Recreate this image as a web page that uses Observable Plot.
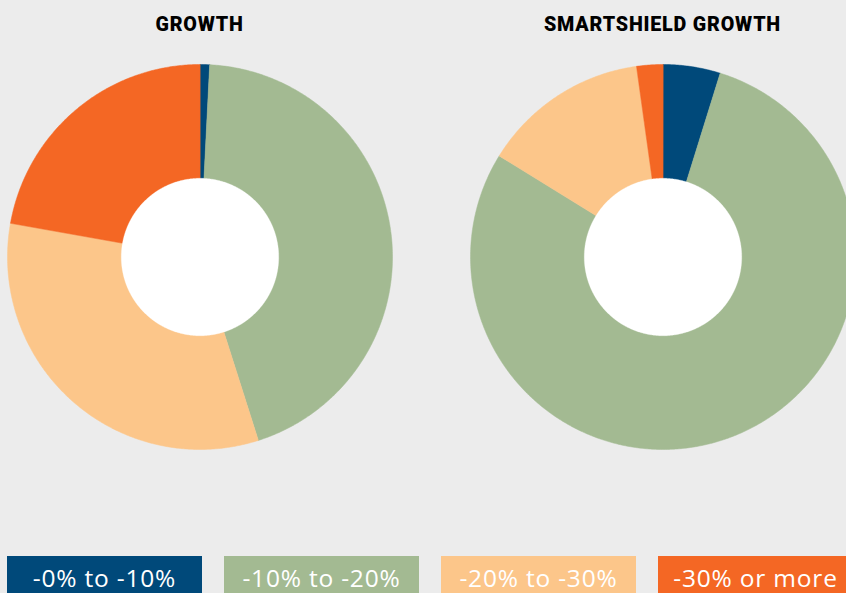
<!DOCTYPE html>
<html>
<head>
<meta charset="utf-8">
<script src="https://cdn.jsdelivr.net/npm/d3@7"></script>
<script src="https://cdn.jsdelivr.net/npm/@observablehq/plot@0.6"></script>
<style>
  html, body { margin: 0; padding: 0; background: #ececec; overflow: hidden; }
  #page { position: relative; width: 846px; height: 593px; overflow: hidden; background: #ececec; }
  .title { position: absolute; top: 13px; font-family: Roboto, "DejaVu Sans", sans-serif; font-weight: 900; font-size: 19.7px; color: #000; text-align: center; width: 400px; letter-spacing: 0.8px; white-space: nowrap; }
  .chart { position: absolute; top: 64px; width: 385px; height: 385px; }
  .chart svg { overflow: visible; display: block; max-width: none !important; width: 385px; height: 385px; }
  .legend-item { position: absolute; top: 556px; width: 195px; height: 37px; color: #fff; font-family: "Open Sans", sans-serif; font-size: 24.5px; text-align: center; line-height: 30px; padding-top: 6.5px; box-sizing: border-box; letter-spacing: 0.8px; white-space: nowrap; }
</style>
</head>
<body>
<div id="page"></div>
<script>
const categories = ["-0% to -10%", "-10% to -20%", "-20% to -30%", "-30% or more"];
const colors = ["#00497a", "#a3ba92", "#fcc68a", "#f46724"];
const growth = [0.8, 44.3, 32.7, 22.2];
const smartshield = [4.8, 79.0, 14.0, 2.2];
const chartTitles = ["GROWTH", "SMARTSHIELD GROWTH"];
const innerRatio = 0.409;

function wedges(values) {
  const total = d3.sum(values);
  const pts = [];
  let acc = 0;
  values.forEach((v, i) => {
    const a0 = acc / total * 2 * Math.PI;
    acc += v;
    const a1 = acc / total * 2 * Math.PI;
    const n = Math.max(2, Math.ceil((a1 - a0) / (Math.PI / 360)));
    pts.push({cat: categories[i], x: 0, y: 0});
    for (let k = 0; k <= n; k++) {
      const a = a0 + (a1 - a0) * k / n;
      pts.push({cat: categories[i], x: Math.sin(a), y: Math.cos(a)});
    }
  });
  return pts;
}
function hole() {
  const pts = [];
  for (let k = 0; k < 720; k++) {
    const a = k / 720 * 2 * Math.PI;
    pts.push({x: innerRatio * Math.sin(a), y: innerRatio * Math.cos(a)});
  }
  return pts;
}

function donut(values) {
  return Plot.plot({
    width: 385,
    height: 385,
    margin: 0,
    x: {domain: [-1, 1], axis: null},
    y: {domain: [-1, 1], axis: null},
    color: {domain: categories, range: colors},
    style: {background: "transparent", overflow: "visible"},
    marks: [
      Plot.line(wedges(values), {x: "x", y: "y", z: "cat", fill: "cat", stroke: "cat", strokeWidth: 0.5, curve: "linear-closed"}),
      Plot.line(hole(), {x: "x", y: "y", fill: "#ffffff", stroke: "#ffffff", strokeWidth: 0.3, curve: "linear-closed"})
    ]
  });
}

const page = document.getElementById("page");
const series = [growth, smartshield];
const lefts = [7, 470];
series.forEach((vals, i) => {
  const t = document.createElement("div");
  t.className = "title";
  t.textContent = chartTitles[i];
  t.style.left = (lefts[i] + 192.5 - 200) + "px";
  page.appendChild(t);
  const c = document.createElement("div");
  c.className = "chart";
  c.style.left = lefts[i] + "px";
  c.appendChild(donut(vals));
  page.appendChild(c);
});

categories.forEach((cat, i) => {
  const d = document.createElement("div");
  d.className = "legend-item";
  d.style.left = (7 + i * 217) + "px";
  d.style.background = colors[i];
  d.textContent = cat;
  page.appendChild(d);
});
</script>
</body>
</html>
